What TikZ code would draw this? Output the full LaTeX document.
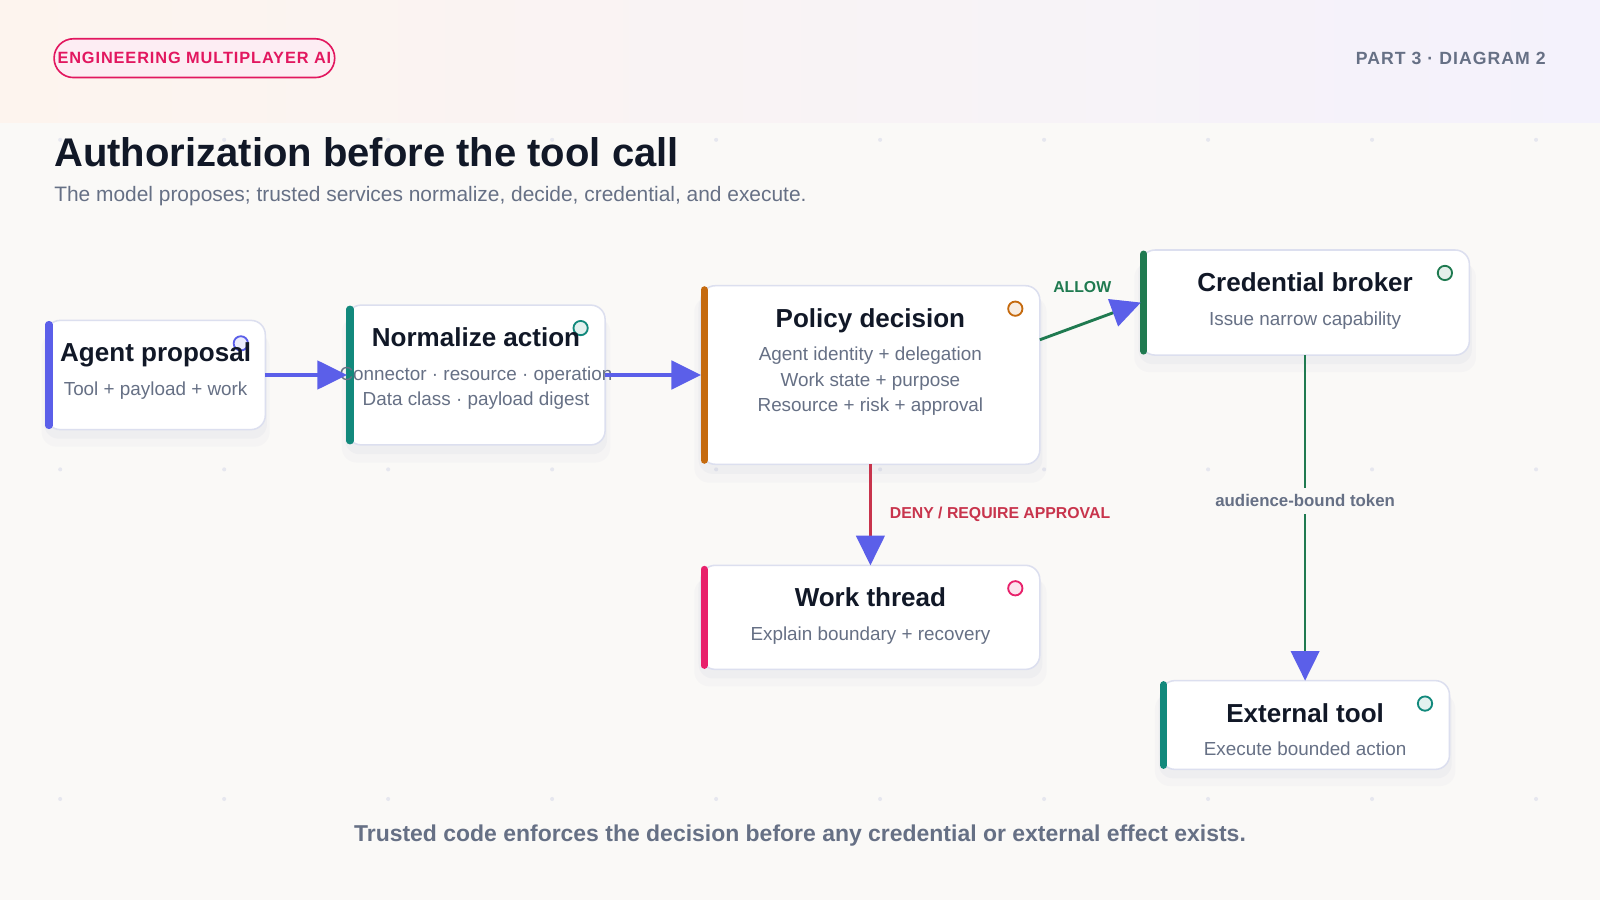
\documentclass[tikz,border=0pt]{standalone}
\usepackage{fontspec}
\setmainfont{Liberation Sans}
\usetikzlibrary{arrows.meta,positioning,shadows}
\definecolor{paper}{HTML}{FAF9F7}
\definecolor{bandl}{HTML}{FDF4EE}
\definecolor{bandr}{HTML}{F4F2FC}
\definecolor{ink}{HTML}{111827}
\definecolor{muted}{HTML}{667085}
\definecolor{rim}{HTML}{DCDFEF}
\definecolor{dotc}{HTML}{E6E7EF}
\definecolor{haze}{HTML}{8A90B8}
\definecolor{indigo}{HTML}{5B5FE9}
\definecolor{cteal}{HTML}{12897C}
\definecolor{corange}{HTML}{C56A0E}
\definecolor{cgreen}{HTML}{1F7A50}
\definecolor{cpink}{HTML}{E8216B}
\definecolor{cdeny}{HTML}{C8344C}
\definecolor{brandc}{HTML}{E2175F}
\definecolor{brandfill}{HTML}{FDEDF3}

\newcommand\cardhead[1]{{\fontsize{25.5}{30}\selectfont\bfseries\color{ink}#1}}

\begin{document}
\begin{tikzpicture}[x=1pt,y=-1pt,
    card/.style={draw=rim, line width=1.5pt, fill=white, rounded corners=14pt, inner sep=0pt, outer sep=0pt,
      drop shadow={shadow xshift=0pt, shadow yshift=-14pt, shadow scale=1.04, fill=haze, opacity=0.04},
      drop shadow={shadow xshift=0pt, shadow yshift=-8pt, shadow scale=1.015, fill=haze, opacity=0.06}},
    cardtext/.style={align=center, inner sep=0pt, text=muted, font=\fontsize{18.5}{25}\selectfont},
    accent/.style={draw=#1, line width=7pt, line cap=round},
    pip/.style={draw=#1, fill=#1!12, line width=1.8pt},
    flow/.style={draw=indigo, line width=3pt, -{Triangle[length=29pt,width=28pt,color=indigo]}},
    allow/.style={flow, draw=cgreen, line width=2.8pt},
    deny/.style={flow, draw=cdeny, line width=2.2pt},
    token/.style={flow, draw=cgreen, line width=2.2pt},
    lbl/.style={inner sep=0pt, font=\fontsize{15.5}{18}\selectfont\bfseries}]
  \useasboundingbox (0,0) rectangle (1568,882);

  % page, header band, dot grid
  \fill[paper] (0,0) rectangle (1568,882);
  \shade[left color=bandl, right color=bandr] (0,0) rectangle (1568,120);
  \foreach \i in {0,...,9}
    \foreach \j in {0,1,2}
      \fill[dotc] (59+160.7*\i,137+323*\j) circle (2pt);

  \node[draw=brandc, fill=brandfill, line width=1.6pt, rounded corners=19pt, minimum width=275pt,
        minimum height=38pt, inner sep=0pt, text=brandc,
        font=\fontsize{16}{19}\selectfont\bfseries\addfontfeature{LetterSpace=5.5}] (brand) at (190.5,57)
        {ENGINEERING MULTIPLAYER AI};
  \node[anchor=base east, inner sep=0pt, text=muted,
        font=\fontsize{17.3}{20}\selectfont\bfseries\addfontfeature{LetterSpace=6}] (part) at (1515,63)
        {PART 3 · DIAGRAM 2};
  \node[anchor=base west, inner sep=0pt, text=ink, font=\fontsize{39.2}{46}\selectfont\bfseries] (title)
        at (53,163.5) {Authorization before the tool call};
  \node[anchor=base west, inner sep=0pt, text=muted, font=\fontsize{20.5}{24}\selectfont] (subtitle)
        at (53,197.5) {The model proposes; trusted services normalize, decide, credential, and execute.};

  \node[card, minimum width=215pt, minimum height=107pt] (agent) at (152.5,367.5) {};
  \node[card, minimum width=253pt, minimum height=137pt, right=80pt of agent] (norm) {};
  \node[card, minimum width=332pt, minimum height=175pt, right=94pt of norm] (policy) {};
  \node[card, minimum width=322pt, minimum height=103pt, right=99pt of policy, yshift=71pt] (cred) {};
  \node[card, minimum width=332pt, minimum height=102pt, below=99pt of policy] (work) {};
  \node[card, minimum width=283pt, minimum height=87pt, below=319pt of cred] (ext) {};

  \foreach \n/\c in {agent/indigo,norm/cteal,policy/corange,cred/cgreen,work/cpink,ext/cteal}{
    \draw[accent=\c] ([xshift=3pt,yshift=-4pt]\n.north west) -- ([xshift=3pt,yshift=4pt]\n.south west);
    \draw[pip=\c] ([xshift=-24pt,yshift=-22.5pt]\n.north east) circle (7pt);
  }

  \node[cardtext, below=22pt of agent.north] (agent-txt)
    {\cardhead{Agent proposal}\\[8pt]Tool + payload + work};
  \node[cardtext, below=22pt of norm.north] (norm-txt)
    {\cardhead{Normalize action}\\[8pt]Connector · resource · operation\\Data class · payload digest};
  \node[cardtext, below=22pt of policy.north] (policy-txt)
    {\cardhead{Policy decision}\\[8pt]Agent identity + delegation\\Work state + purpose\\Resource + risk + approval};
  \node[cardtext, below=22pt of cred.north] (cred-txt)
    {\cardhead{Credential broker}\\[8pt]Issue narrow capability};
  \node[cardtext, below=22pt of work.north] (work-txt)
    {\cardhead{Work thread}\\[8pt]Explain boundary + recovery};
  \node[cardtext, below=22pt of ext.north] (ext-txt)
    {\cardhead{External tool}\\[8pt]Execute bounded action};

  \path (agent) edge[flow] (norm)
        (norm) edge[flow] (policy)
        ([yshift=34.5pt]policy.east) edge[allow] node[lbl, text=cgreen, above=29pt, pos=0.42] {ALLOW} (cred.west)
        (policy) edge[deny] node[lbl, text=cdeny, right=18pt] {DENY / REQUIRE APPROVAL} (work)
        (cred) edge[token] node[lbl, text=muted, fill=paper, inner sep=7pt, pos=0.448,
                                font=\fontsize{16.5}{19}\selectfont\bfseries] {audience-bound token} (ext);

  \node[anchor=base, inner sep=0pt, text=muted, font=\fontsize{22.5}{27}\selectfont\bfseries] (caption)
        at (784,825) {Trusted code enforces the decision before any credential or external effect exists.};
\end{tikzpicture}
\end{document}
